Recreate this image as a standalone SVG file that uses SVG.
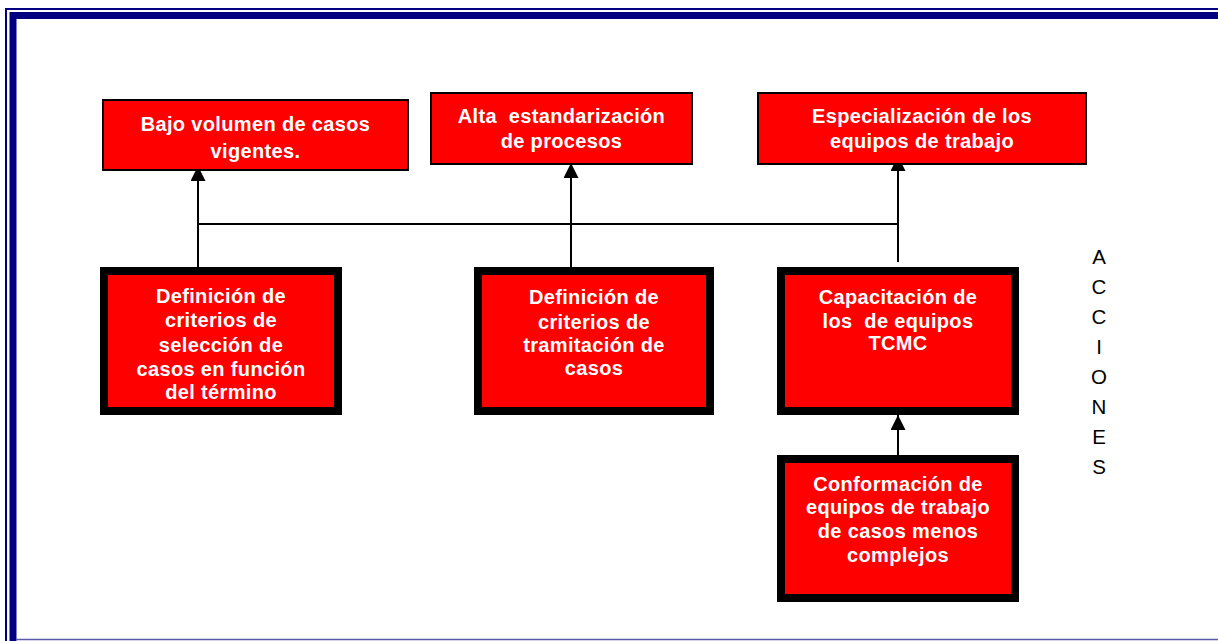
<svg xmlns="http://www.w3.org/2000/svg" width="1218" height="641" viewBox="0 0 1218 641">
  <style>
    .goal { fill: #ff0000; stroke: #000000; stroke-width: 2; }
    .action { fill: #ff0000; stroke: #000000; stroke-width: 8; }
    .lbl { font-family: "Liberation Sans", Arial, sans-serif; font-weight: bold; font-size: 20px; fill: #ffffff; text-anchor: middle; letter-spacing: 0.35px; white-space: pre; }
    .side { font-family: "Liberation Sans", Arial, sans-serif; font-size: 20.5px; fill: #000000; text-anchor: middle; }
    .conn { stroke: #000000; stroke-width: 2; fill: none; }
  </style>
  <defs>
    <marker id="head" markerUnits="userSpaceOnUse" markerWidth="15" markerHeight="15" refX="15" refY="7.5" orient="auto" viewBox="0 0 15 15">
      <path d="M0,0 L15,7.5 L0,15 z" fill="#000000"/>
    </marker>
  </defs>

  <rect width="1218" height="641" fill="#ffffff"/>

  <!-- page frame -->
  <g id="frame" fill="none">
    <path d="M6,641 V9 H1218" stroke="#000080" stroke-width="2"/>
    <path d="M13,641 V15.5 H1218" stroke="#000080" stroke-width="7"/>
    <line x1="16" y1="639.5" x2="1218" y2="639.5" stroke="#5a5aa8" stroke-width="1.5"/>
  </g>

  <!-- connectors -->
  <g id="connectors">
    <line class="conn" x1="198" y1="267" x2="198" y2="166" marker-end="url(#head)"/>
    <line class="conn" x1="198" y1="224" x2="898" y2="224"/>
    <line class="conn" x1="571" y1="267" x2="571" y2="163" marker-end="url(#head)"/>
    <line class="conn" x1="898" y1="262" x2="898" y2="156" marker-end="url(#head)"/>
    <line class="conn" x1="898" y1="455" x2="898" y2="415" marker-end="url(#head)"/>
  </g>

  <!-- outcomes -->
  <g id="bajo-volumen">
    <rect class="goal" x="103" y="100" width="305" height="70"/>
    <text class="lbl" x="255.5" y="131">Bajo volumen de casos</text>
    <text class="lbl" x="255.5" y="158">vigentes.</text>
  </g>
  <g id="alta-estandarizacion">
    <rect class="goal" x="431" y="93" width="261" height="71"/>
    <text class="lbl" x="561.5" y="123">Alta  estandarización</text>
    <text class="lbl" x="561.5" y="148">de procesos</text>
  </g>
  <g id="especializacion">
    <rect class="goal" x="758" y="93" width="328" height="71"/>
    <text class="lbl" x="922" y="123">Especialización de los</text>
    <text class="lbl" x="922" y="148">equipos de trabajo</text>
  </g>

  <!-- actions -->
  <g id="criterios-seleccion">
    <rect class="action" x="104" y="271" width="234" height="140"/>
    <text class="lbl" x="221" y="303">Definición de</text>
    <text class="lbl" x="221" y="327">criterios de</text>
    <text class="lbl" x="221" y="352">selección de</text>
    <text class="lbl" x="221" y="376">casos en función</text>
    <text class="lbl" x="221" y="399">del término</text>
  </g>
  <g id="criterios-tramitacion">
    <rect class="action" x="478" y="271" width="232" height="140"/>
    <text class="lbl" x="594" y="304">Definición de</text>
    <text class="lbl" x="594" y="329">criterios de</text>
    <text class="lbl" x="594" y="352">tramitación de</text>
    <text class="lbl" x="594" y="375">casos</text>
  </g>
  <g id="capacitacion">
    <rect class="action" x="781" y="271" width="234" height="140"/>
    <text class="lbl" x="898" y="304">Capacitación de</text>
    <text class="lbl" x="898" y="328">los  de equipos</text>
    <text class="lbl" x="898" y="350">TCMC</text>
  </g>
  <g id="conformacion">
    <rect class="action" x="781" y="459" width="234" height="139"/>
    <text class="lbl" x="898" y="491">Conformación de</text>
    <text class="lbl" x="898" y="514">equipos de trabajo</text>
    <text class="lbl" x="898" y="538">de casos menos</text>
    <text class="lbl" x="898" y="562">complejos</text>
  </g>

  <!-- vertical side caption -->
  <g id="acciones">
    <text class="side" x="1099" y="264">A</text>
    <text class="side" x="1099" y="294">C</text>
    <text class="side" x="1099" y="324">C</text>
    <text class="side" x="1099" y="354">I</text>
    <text class="side" x="1099" y="384">O</text>
    <text class="side" x="1099" y="414">N</text>
    <text class="side" x="1099" y="444">E</text>
    <text class="side" x="1099" y="474">S</text>
  </g>
</svg>
